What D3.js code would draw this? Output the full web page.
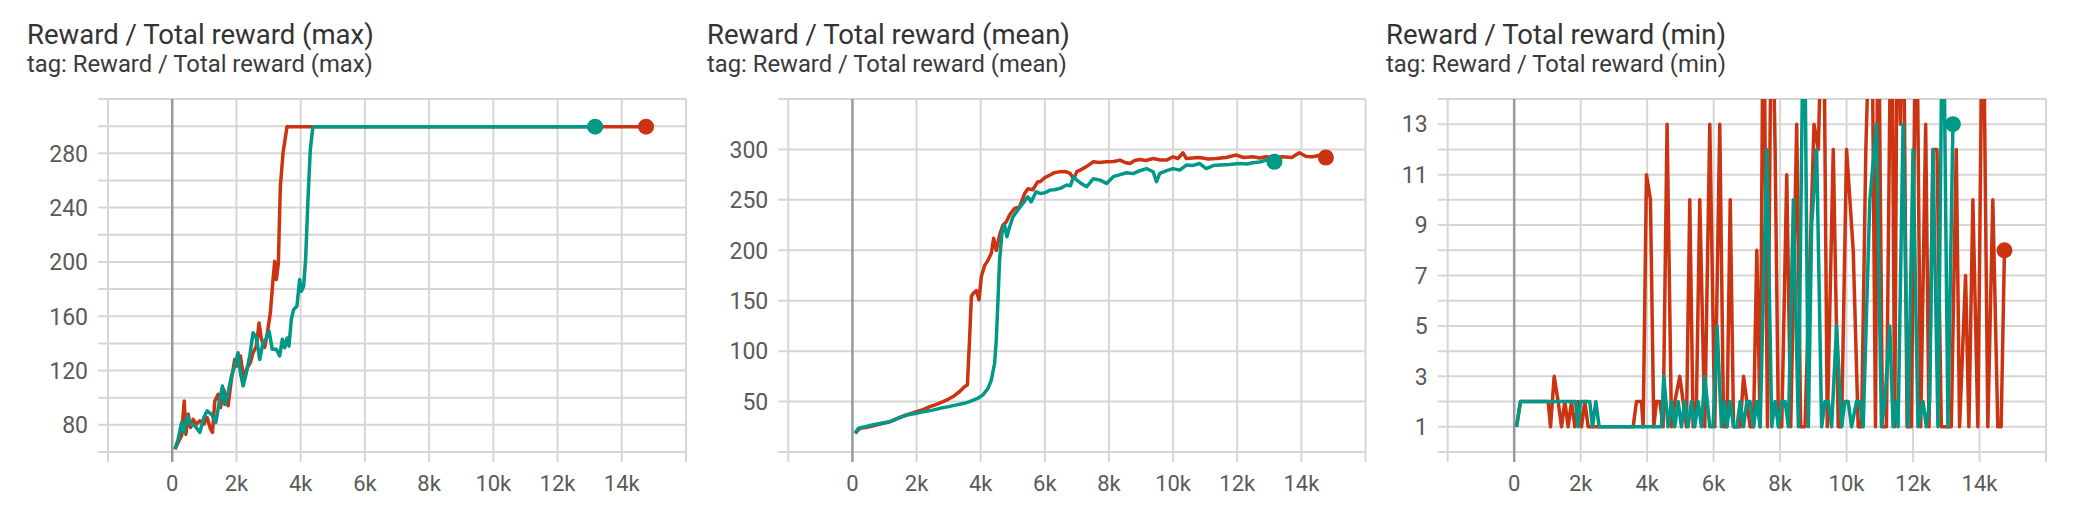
<!DOCTYPE html>
<html><head><meta charset="utf-8">
<script src="https://cdn.jsdelivr.net/npm/d3@7"></script>
<style>
html,body{margin:0;padding:0;background:#fff;}
svg{display:block;font-family:Roboto,"Noto Sans",sans-serif;}
</style></head>
<body><svg id="chart" width="2076" height="512"></svg>
<script>
// ---------- data ----------
const runNames = ["run_red", "run_teal"];
const runColors = ["#cc3311", "#009988"];

const titles = ["Reward / Total reward (max)", "Reward / Total reward (mean)", "Reward / Total reward (min)"];
const subtitles = ["tag: Reward / Total reward (max)", "tag: Reward / Total reward (mean)", "tag: Reward / Total reward (min)"];

const xTickValues = [0, 2000, 4000, 6000, 8000, 10000, 12000, 14000];
const xGridValues = [-2000, 0, 2000, 4000, 6000, 8000, 10000, 12000, 14000, 16000];
const xDomain = [-2000, 16000];

const maxYDomain = [60, 320];
const maxYLabels = [80, 120, 160, 200, 240, 280];
const maxYGrid = [60, 80, 100, 120, 140, 160, 180, 200, 220, 240, 260, 280, 300, 320];

const meanYDomain = [0, 350];
const meanYLabels = [50, 100, 150, 200, 250, 300];
const meanYGrid = [0, 50, 100, 150, 200, 250, 300, 350];

const minYDomain = [0, 14];
const minYLabels = [1, 3, 5, 7, 9, 11, 13];
const minYGrid = [0, 1, 2, 3, 4, 5, 6, 7, 8, 9, 10, 11, 12, 13, 14];

// max reward
const maxRed = [[83,62],[238,69.5],[290,72],[373,97.6],[425,73],[497,88],[570,78],[653,84],[756,80.5],[860,83],[984,80.5],[1088,85.4],[1191,77],[1254,74.4],[1326,97.6],[1430,102.5],[1502,92.7],[1606,106],[1740,94],[1844,113.5],[1948,128.2],[2020,123.3],[2124,130.7],[2227,113.5],[2310,121],[2435,125.8],[2517,133],[2621,138],[2704,155],[2776,143],[2880,137],[2963,147.8],[3056,162.5],[3139,187],[3191,200.4],[3243,187],[3305,199],[3367,255.5],[3450,280],[3574,299.6],[14756,299.6]];
const maxTeal = [[83,62],[186,69.5],[290,81.7],[373,74.4],[466,86.7],[570,80.5],[704,79.3],[860,74.4],[984,85.4],[1088,90.3],[1222,87.8],[1357,81.7],[1481,98.8],[1564,108.6],[1637,95],[1740,103.7],[1844,116],[1948,123.3],[2051,133.1],[2124,118.4],[2207,108.6],[2310,118.4],[2414,130.7],[2517,147.8],[2621,144],[2725,128.2],[2828,140.5],[2932,144],[3015,149],[3118,135.6],[3243,135.6],[3346,130.7],[3429,143],[3502,136.8],[3574,144],[3636,138],[3709,157.6],[3781,165],[3885,167.4],[3968,187],[4020,178.4],[4092,182],[4154,201.7],[4227,245.7],[4299,282.4],[4382,299.6],[13170,299.6]];

// mean reward
const meanRed = [[83,18.6],[238,23.5],[450,24.5],[653,26],[900,28],[1171,30],[1450,34],[1689,36.7],[2000,40],[2200,42],[2414,45],[2600,47],[2828,50],[3000,52.5],[3139,55],[3346,60],[3502,65],[3585,66.5],[3650,110],[3709,154],[3761,157],[3864,160],[3947,151],[4020,174],[4123,185],[4227,190],[4330,197],[4403,212],[4486,200],[4589,215],[4693,225],[4797,228],[4900,235],[5056,241.5],[5211,243],[5366,256],[5470,261],[5626,260],[5781,268],[5855,268],[6000,272],[6166,274.6],[6300,277],[6477,277.9],[6650,278],[6788,276.2],[6900,271],[7000,278],[7099,279.5],[7300,283],[7513,287.8],[7700,287],[7927,287.8],[8150,288],[8342,289.4],[8500,287],[8653,286],[8800,289],[8963,290],[9150,289],[9378,291],[9600,289.5],[9792,289.4],[10000,292.7],[10150,291],[10310,296.7],[10414,291],[10600,291.5],[10828,292],[11100,290.5],[11346,291],[11650,292],[11968,294.4],[12200,292],[12486,292.7],[12700,291.5],[12900,292.7],[13150,292],[13418,292.7],[13700,292],[13936,296.7],[14150,293],[14350,292.7],[14550,294],[14765,292]];
const meanTeal = [[83,18.6],[186,23.5],[400,25],[653,27],[900,28.5],[1171,30],[1450,33.5],[1689,36.7],[2000,38.5],[2207,40],[2500,41.5],[2725,43.3],[3000,45],[3243,46.7],[3450,48],[3657,50],[3916,53.3],[4071,56.6],[4227,63],[4330,71],[4434,88],[4486,111],[4538,150],[4589,190],[4662,216.8],[4745,225],[4817,213.5],[4900,223],[5004,233],[5159,240],[5315,246.5],[5470,253],[5574,248],[5729,258],[5855,256.4],[6000,257],[6166,259.7],[6300,260],[6477,261.4],[6684,264.7],[6800,264],[6892,273],[6995,269.6],[7150,266],[7306,263],[7513,271],[7720,269.6],[7927,266.3],[8135,273],[8350,275],[8549,276.9],[8750,276],[8963,278.9],[9171,281],[9378,277.9],[9482,268],[9585,276.2],[9800,279],[10000,281],[10207,279.5],[10414,284.5],[10600,284],[10828,286],[11035,281],[11250,284],[11450,284.5],[11750,285],[12072,286],[12300,285.5],[12486,286.8],[12700,287.5],[12900,289.4],[13159,287.8]];

// min reward
const minRed = [[70,1],[190,2],[1023,2],[1093,1],[1203,3],[1323,2],[1424,1],[1524,2],[1624,1],[1724,2],[1825,1],[1925,2],[2025,1],[2125,2],[2226,1],[2326,1],[3579,1],[3680,2],[3830,2],[3880,1],[3980,11],[4100,10],[4200,1],[4280,2],[4380,2],[4481,1],[4600,13],[4732,1],[4832,2],[4982,3],[5083,2],[5183,1],[5283,10],[5383,1],[5484,2],[5584,10],[5734,1],[5885,13],[6035,1],[6185,13],[6300,1],[6400,1],[6500,10],[6600,1],[6700,1],[6800,1],[6900,3],[7000,2],[7100,1],[7200,1],[7300,8],[7400,1],[7500,20],[7620,1],[7750,20],[7850,12],[7950,1],[8050,1],[8200,11],[8320,1],[8500,13],[8620,1],[8750,1],[9020,13],[9150,12],[9300,20],[9420,1],[9600,12],[9750,1],[9850,1],[10000,12],[10200,8],[10350,1],[10450,1],[10580,12],[10750,20],[10870,1],[10950,20],[11080,1],[11200,1],[11350,20],[11450,1],[11530,20],[11620,13],[11700,20],[11820,1],[11950,1],[12100,20],[12230,1],[12380,13],[12480,1],[12600,12],[12720,12],[12850,1],[13000,1],[13150,1],[13300,12],[13400,1],[13580,7],[13680,1],[13800,10],[13950,1],[14100,20],[14250,1],[14400,10],[14550,1],[14650,1],[14750,8]];
const minTeal = [[70,1],[190,2],[1845,2],[1925,1],[1995,2],[2275,2],[2356,1],[2456,2],[2556,1],[4431,1],[4501,3],[4631,1],[4732,2],[4832,1],[4932,2],[5032,1],[5133,2],[5233,1],[5333,2],[5434,1],[5534,2],[5634,1],[5734,3],[5885,1],[5985,1],[6105,5],[6235,1],[6335,2],[6400,1],[6500,2],[6600,1],[6700,1],[6800,2],[6900,1],[7000,2],[7100,2],[7200,1],[7300,2],[7400,1],[7600,12],[7750,1],[7850,2],[7950,1],[8050,2],[8150,2],[8250,1],[8400,10],[8550,1],[8720,20],[8850,1],[8950,9],[9100,12],[9250,1],[9350,2],[9450,2],[9550,1],[9700,5],[9850,1],[9950,2],[10050,2],[10150,1],[10300,2],[10400,2],[10500,1],[10700,10],[10900,13],[11050,1],[11150,2],[11300,5],[11400,1],[11500,2],[11550,1],[11700,13],[11850,1],[12000,12],[12150,1],[12300,2],[12400,1],[12500,2],[12600,12],[12750,1],[12900,20],[13050,1],[13200,13]];

// ---------- layout ----------
const panels = [
  {title: titles[0], sub: subtitles[0], tx: 27, left: 108, right: 686, yDomain: maxYDomain, yLabels: maxYLabels, yGrid: maxYGrid, series: [maxRed, maxTeal]},
  {title: titles[1], sub: subtitles[1], tx: 707, left: 788.3, right: 1365.5, yDomain: meanYDomain, yLabels: meanYLabels, yGrid: meanYGrid, series: [meanRed, meanTeal]},
  {title: titles[2], sub: subtitles[2], tx: 1386, left: 1447.7, right: 2046, yDomain: minYDomain, yLabels: minYLabels, yGrid: minYGrid, series: [minRed, minTeal]}
];
const plotTop = 99, plotBottom = 452;

const svg = d3.select("#chart");

panels.forEach((p, i) => {
  const g = svg.append("g");
  const x = d3.scaleLinear().domain(xDomain).range([p.left, p.right]);
  const y = d3.scaleLinear().domain(p.yDomain).range([plotBottom, plotTop]);

  g.append("text").attr("x", p.tx).attr("y", 43.5)
    .attr("font-size", 27.5).attr("fill", "#333").text(p.title);
  g.append("text").attr("x", p.tx).attr("y", 72)
    .attr("font-size", 23.8).attr("fill", "#3a3a3a").text(p.sub);

  g.selectAll(".hg").data(p.yGrid).enter().append("line")
    .attr("x1", p.left - 10).attr("x2", p.right)
    .attr("y1", d => y(d)).attr("y2", d => y(d))
    .attr("stroke", "#d6d6d6").attr("stroke-width", 2);
  g.selectAll(".vg").data(xGridValues).enter().append("line")
    .attr("x1", d => x(d)).attr("x2", d => x(d))
    .attr("y1", plotTop).attr("y2", plotBottom + 10)
    .attr("stroke", d => d === 0 ? "#999" : "#d6d6d6")
    .attr("stroke-width", d => d === 0 ? 2.5 : 2);

  g.selectAll(".yl").data(p.yLabels).enter().append("text")
    .attr("x", p.left - 20).attr("y", d => y(d)).attr("dy", "0.36em")
    .attr("text-anchor", "end").attr("font-size", 23).attr("fill", "#5a5a5a")
    .text(d => d);
  g.selectAll(".xl").data(xTickValues).enter().append("text")
    .attr("x", d => x(d)).attr("y", 490.5)
    .attr("text-anchor", "middle").attr("font-size", 22).attr("fill", "#5a5a5a")
    .text(d => d === 0 ? "0" : (d / 1000) + "k");

  const clipId = "clip" + i;
  svg.append("clipPath").attr("id", clipId).append("rect")
    .attr("x", p.left).attr("y", plotTop).attr("width", p.right - p.left).attr("height", plotBottom - plotTop);

  const line = d3.line().x(d => x(d[0])).y(d => y(d[1]));
  const lg = g.append("g").attr("clip-path", `url(#${clipId})`);
  p.series.forEach((s, k) => {
    lg.append("path").datum(s).attr("d", line)
      .attr("fill", "none").attr("stroke", runColors[k])
      .attr("stroke-width", 3.5).attr("stroke-linejoin", "round");
  });
  p.series.forEach((s, k) => {
    const last = s[s.length - 1];
    lg.append("circle").attr("cx", x(last[0])).attr("cy", y(last[1]))
      .attr("r", 8).attr("fill", runColors[k]);
  });
});
</script></body></html>
